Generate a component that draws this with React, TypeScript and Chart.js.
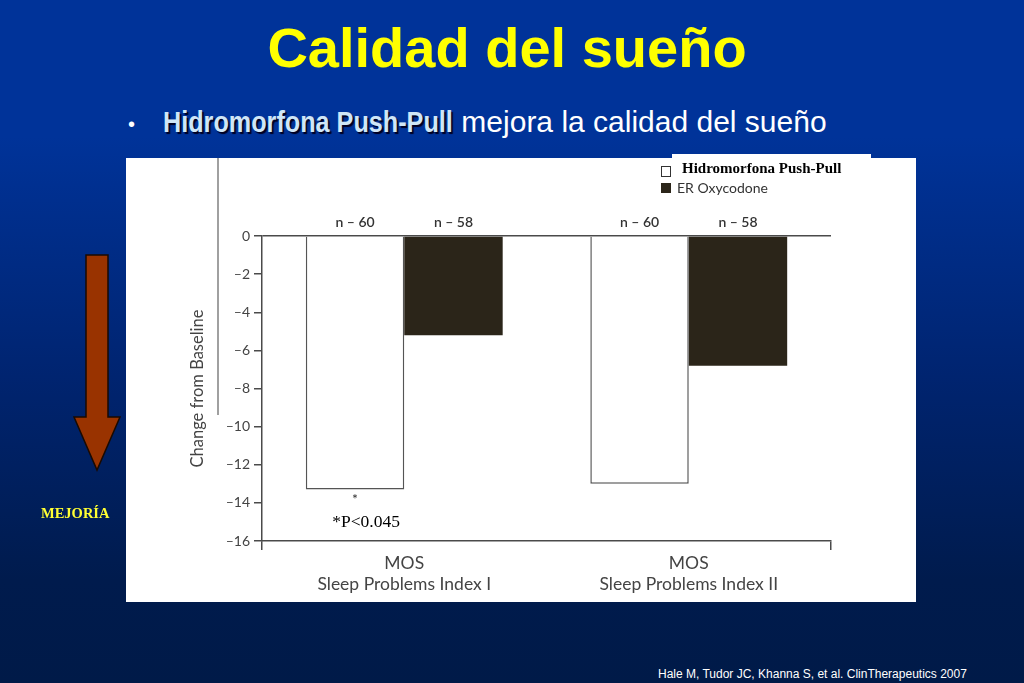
import { useEffect, useRef } from 'react'
import { Chart, registerables } from 'chart.js'

Chart.register(...registerables)

const categories = [
  ['MOS', 'Sleep Problems Index I'],
  ['MOS', 'Sleep Problems Index II'],
]
const seriesNames = ['Hidromorfona Push-Pull', 'ER Oxycodone']
const hidromorfona = [-13.3, -13.0]
const oxycodone = [-5.2, -6.8]
const hidromorfonaN = [60, 60]
const oxycodoneN = [58, 58]
const significance = ['*', '']
const significanceNote = '*P<0.045'
const yTicks = [0, -2, -4, -6, -8, -10, -12, -14, -16]

const axisColor = '#4a4a4a'
const textColor = '#444'
const darkBar = '#2b2519'

const barLabels = {
  id: 'barLabels',
  afterDatasetsDraw(chart: Chart) {
    const { ctx, chartArea } = chart
    const counts = [hidromorfonaN, oxycodoneN]
    ctx.save()
    ctx.textAlign = 'center'
    ctx.textBaseline = 'middle'
    chart.data.datasets.forEach((_, di) => {
      const meta = chart.getDatasetMeta(di)
      meta.data.forEach((bar: any, i) => {
        ctx.fillStyle = '#333'
        ctx.font = '600 14px Lato'
        ctx.fillText('n \u2013 ' + counts[di][i], bar.x, chartArea.top - 14)
        if (di === 0 && significance[i]) {
          ctx.font = '14px Lato'
          ctx.fillText(significance[i], bar.x, bar.y + 10)
          ctx.fillStyle = '#000'
          ctx.font = '17.5px "Liberation Serif"'
          ctx.fillText(significanceNote, bar.x + 11, bar.y + 33)
        }
      })
    })
    ctx.restore()
  },
}

function SleepChart() {
  const chartRef = useRef<HTMLCanvasElement>(null)
  const chartInstance = useRef<Chart | null>(null)

  useEffect(() => {
    if (!chartRef.current) return
    if (chartInstance.current) chartInstance.current.destroy()
    const ctx = chartRef.current.getContext('2d')
    if (!ctx) return

    chartInstance.current = new Chart(ctx, {
      type: 'bar',
      data: {
        labels: categories,
        datasets: [
          {
            label: seriesNames[0],
            data: hidromorfona,
            backgroundColor: '#ffffff',
            borderColor: '#555',
            borderWidth: 1.5,
          },
          {
            label: seriesNames[1],
            data: oxycodone,
            backgroundColor: darkBar,
            borderColor: darkBar,
            borderWidth: 0,
          },
        ],
      },
      plugins: [barLabels],
      options: {
        animation: false,
        responsive: true,
        maintainAspectRatio: false,
        datasets: { bar: { barPercentage: 1, categoryPercentage: 0.692 } },
        layout: { padding: { left: 0, right: 85, top: 78, bottom: 0 } },
        plugins: { legend: { display: false }, tooltip: { enabled: false } },
        scales: {
          x: {
            grid: {
              drawOnChartArea: false,
              tickLength: 9,
              lineWidth: 1.5,
              tickColor: (c: any) => (c.index === 1 ? 'transparent' : axisColor),
            },
            border: { color: axisColor, width: 1.5 },
            ticks: {
              color: textColor,
              font: { family: 'Lato', size: 17.5, lineHeight: 1.25 },
              padding: 2,
            },
            afterFit: (s: any) => {
              s.height = 61
            },
          },
          y: {
            min: -16,
            max: 0,
            afterBuildTicks: (s: any) => {
              s.ticks = yTicks.map((v) => ({ value: v }))
            },
            grid: {
              color: (c: any) => (c.tick && c.tick.value === 0 ? axisColor : 'transparent'),
              tickColor: axisColor,
              tickLength: 8,
              lineWidth: 1.5,
            },
            border: { color: axisColor, width: 1.5 },
            ticks: {
              color: textColor,
              font: { family: 'Lato', size: 14 },
              padding: 4,
              callback: (v) => (Number(v) < 0 ? '\u2013' + Math.abs(Number(v)) : String(v)),
            },
            title: {
              display: true,
              text: 'Change from Baseline',
              color: textColor,
              font: { family: 'Lato', size: 16.5 },
              padding: { top: 62, bottom: 0 },
            },
            afterFit: (s: any) => {
              s.width = 136
            },
          },
        },
      },
    })

    return () => {
      if (chartInstance.current) {
        chartInstance.current.destroy()
        chartInstance.current = null
      }
    }
  }, [])

  return (
    <div style={{ position: 'absolute', left: 126, top: 158, width: 790, height: 444 }}>
      <canvas ref={chartRef} />
    </div>
  )
}

export default function App() {
  return (
    <div
      style={{
        position: 'relative',
        width: 1024,
        height: 683,
        overflow: 'hidden',
        background: 'linear-gradient(to bottom, #003399 0%, #003399 20%, #002470 55%, #001b4d 85%, #001a48 100%)',
        fontFamily: '"Liberation Sans", Arial, sans-serif',
      }}
    >
      <style>{'body{margin:0}'}</style>
      <div
        style={{
          position: 'absolute',
          left: 0,
          width: 1014,
          top: 16,
          textAlign: 'center',
          color: '#ffff00',
          fontWeight: 'bold',
          fontSize: 56,
          lineHeight: '64px',
        }}
      >
        Calidad del sueño
      </div>
      <div style={{ position: 'absolute', left: 128, top: 104, fontSize: 30, lineHeight: '36px', color: '#fff', whiteSpace: 'nowrap' }}>
        <span style={{ fontSize: 20, verticalAlign: 'middle', marginRight: 28 }}>•</span>
        <span
          style={{
            display: 'inline-block',
            fontWeight: 'bold',
            color: '#cfe6f7',
            textShadow: '2px 2px 1px #000022',
            transform: 'scaleX(0.84)',
            transformOrigin: 'left center',
            marginRight: -55,
          }}
        >
          Hidromorfona Push-Pull
        </span>{' '}
        mejora la calidad del sueño
      </div>

      <div style={{ position: 'absolute', left: 126, top: 158, width: 790, height: 444, background: '#fff' }} />
      <div style={{ position: 'absolute', left: 672, top: 154, width: 199, height: 10, background: '#fff' }} />
      <div style={{ position: 'absolute', left: 217, top: 158, width: 2, height: 257, background: '#a0a0a0' }} />

      <SleepChart />

      <div style={{ position: 'absolute', left: 661, top: 166, width: 8, height: 9, border: '1.5px solid #333' }} />
      <div
        style={{
          position: 'absolute',
          left: 682,
          top: 160,
          fontFamily: '"Liberation Serif", serif',
          fontWeight: 'bold',
          fontSize: 15,
          color: '#000',
        }}
      >
        {seriesNames[0]}
      </div>
      <div style={{ position: 'absolute', left: 661, top: 183, width: 10, height: 10, background: darkBar }} />
      <div style={{ position: 'absolute', left: 677, top: 179, fontFamily: 'Lato', fontSize: 14, color: '#333' }}>
        {seriesNames[1]}
      </div>

      <svg style={{ position: 'absolute', left: 0, top: 0 }} width={140} height={500}>
        <polygon
          points="86,255 108,255 108,417 120,417 97,470 74,417 86,417"
          fill="#993300"
          stroke="#1a0a00"
          strokeWidth={1.5}
        />
      </svg>
      <div
        style={{
          position: 'absolute',
          left: 41,
          top: 505,
          fontFamily: '"Liberation Serif", serif',
          fontWeight: 'bold',
          fontSize: 14.5,
          color: '#ffff33',
        }}
      >
        MEJORÍA
      </div>

      <div style={{ position: 'absolute', left: 658, top: 667, fontSize: 12, color: '#fff', whiteSpace: 'nowrap' }}>
        Hale M, Tudor JC, Khanna S, et al. ClinTherapeutics 2007
      </div>
    </div>
  )
}
